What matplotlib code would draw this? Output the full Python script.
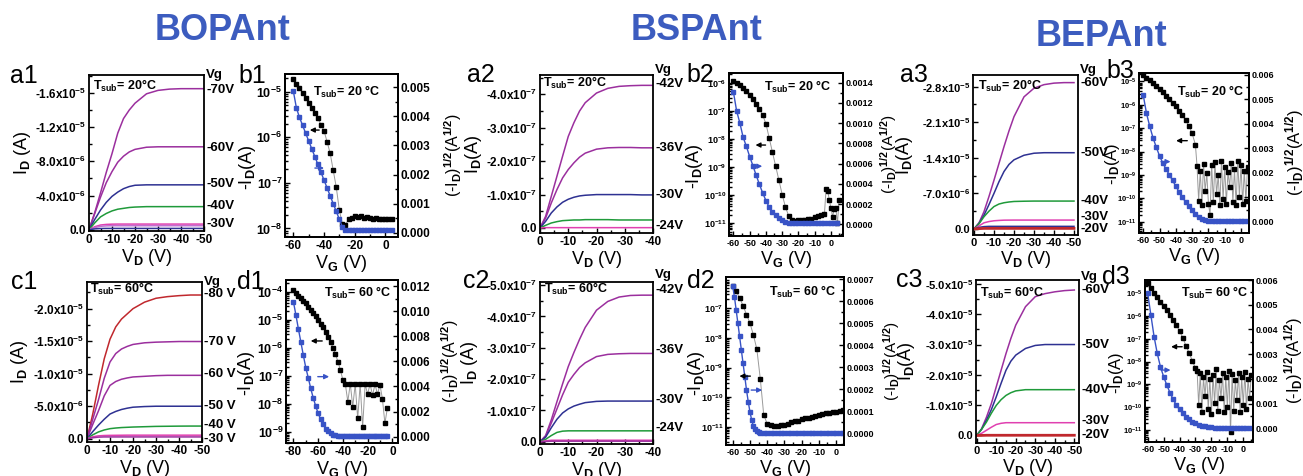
import numpy as np
import matplotlib
matplotlib.use("Agg")
import matplotlib.pyplot as plt
import matplotlib.transforms as mtrans
from matplotlib.ticker import MultipleLocator, LogLocator, NullFormatter

W, H = 1303, 476

plt.rcParams['font.family'] = ['Liberation Sans', 'DejaVu Sans']
plt.rcParams['font.weight'] = 'bold'
plt.rcParams['mathtext.fontset'] = 'custom'
for k in ('rm', 'it', 'bf', 'sf'):
    plt.rcParams['mathtext.' + k] = 'Liberation Sans:bold'
plt.rcParams['mathtext.default'] = 'rm'

PURPLE = '#9b2f9e'
DBLUE = '#2e3192'
GREEN = '#1f9a3a'
PINK = '#e040b0'
MAGENTA = '#c070d0'
RED = '#c0282d'
BLUE = '#3853c6'
TITLE_BLUE = '#3c5cbf'

# ---------------- output curves (I_D vs V_D) ----------------
VD50 = [0, -2.5, -5, -7.5, -10, -12.5, -15, -17.5, -20, -25, -30, -35, -40, -45, -50]
VD40 = [0, -2, -4, -6, -8, -10, -12, -14, -16, -20, -24, -28, -32, -36, -40]

# a1, units of 1e-6 A
A1_70 = [0, -2.0, -4.3, -6.7, -8.9, -11.3, -13.0, -14.0, -14.8, -15.9, -16.3, -16.45, -16.5, -16.5, -16.5]
A1_60 = [0, -1.9, -3.8, -5.5, -6.8, -7.9, -8.6, -9.1, -9.4, -9.65, -9.7, -9.7, -9.7, -9.7, -9.7]
A1_50 = [0, -1.2, -2.3, -3.2, -3.9, -4.4, -4.8, -5.05, -5.2, -5.25, -5.25, -5.25, -5.25, -5.25, -5.25]
A1_40 = [0, -0.8, -1.5, -1.9, -2.2, -2.4, -2.5, -2.6, -2.65, -2.7, -2.7, -2.7, -2.7, -2.7, -2.7]
A1_30 = [0, -0.35, -0.55, -0.62, -0.65, -0.66, -0.66, -0.66, -0.66, -0.66, -0.66, -0.66, -0.66, -0.66, -0.66]
A1_20 = [0, -0.25, -0.4, -0.45, -0.47, -0.47, -0.47, -0.47, -0.47, -0.47, -0.47, -0.47, -0.47, -0.47, -0.47]
A1_10 = [0, -0.1, -0.14, -0.15, -0.15, -0.15, -0.15, -0.15, -0.15, -0.15, -0.15, -0.15, -0.15, -0.15, -0.15]

# c1, units of 1e-6 A
C1_80 = [0, -3.8, -8.2, -12.3, -15.3, -17.2, -18.4, -19.2, -20.0, -21.0, -21.6, -21.85, -22.0, -22.1, -22.1]
C1_70 = [0, -3.0, -6.0, -9.3, -11.8, -13.1, -13.8, -14.2, -14.5, -14.75, -14.85, -14.9, -14.95, -14.95, -14.95]
C1_60 = [0, -2.2, -4.3, -6.6, -8.2, -8.8, -9.15, -9.35, -9.5, -9.6, -9.7, -9.75, -9.75, -9.75, -9.75]
C1_50 = [0, -1.1, -2.1, -3.0, -3.8, -4.2, -4.5, -4.7, -4.85, -4.95, -5.0, -5.0, -5.0, -5.0, -5.0]
C1_40 = [0, -0.6, -1.05, -1.35, -1.55, -1.65, -1.72, -1.76, -1.8, -1.85, -1.9, -1.92, -1.94, -1.95, -1.95]
C1_30 = [0, -0.3, -0.45, -0.5, -0.52, -0.53, -0.54, -0.55, -0.55, -0.55, -0.55, -0.55, -0.55, -0.55, -0.55]
C1_20 = [0, -0.15, -0.25, -0.28, -0.28, -0.28, -0.28, -0.28, -0.28, -0.28, -0.28, -0.28, -0.28, -0.28, -0.28]

# a2, units of 1e-7 A
A2_42 = [0, -0.35, -0.95, -1.55, -2.15, -2.74, -3.15, -3.5, -3.75, -4.04, -4.18, -4.24, -4.26, -4.27, -4.27]
A2_36 = [0, -0.3, -0.75, -1.15, -1.5, -1.75, -1.95, -2.12, -2.24, -2.36, -2.40, -2.41, -2.41, -2.40, -2.40]
A2_30 = [0, -0.2, -0.45, -0.63, -0.77, -0.86, -0.92, -0.96, -0.98, -1.0, -1.0, -1.0, -1.0, -0.99, -0.99]
A2_24 = [0, -0.08, -0.15, -0.19, -0.22, -0.23, -0.24, -0.24, -0.25, -0.25, -0.25, -0.24, -0.24, -0.24, -0.24]
A2_18 = [0, -0.01, -0.01, -0.01, -0.01, -0.01, -0.01, -0.01, -0.01, -0.01, -0.01, -0.01, -0.01, -0.01, -0.01]

# c2, units of 1e-7 A
C2_42 = [0, -0.2, -0.7, -1.28, -1.85, -2.4, -2.85, -3.27, -3.65, -4.2, -4.48, -4.62, -4.67, -4.68, -4.68]
C2_36 = [0, -0.18, -0.6, -1.05, -1.5, -1.9, -2.15, -2.37, -2.52, -2.72, -2.79, -2.81, -2.82, -2.82, -2.82]
C2_30 = [0, -0.15, -0.45, -0.72, -0.92, -1.05, -1.14, -1.2, -1.25, -1.29, -1.3, -1.3, -1.3, -1.3, -1.3]
C2_24 = [0, -0.08, -0.2, -0.3, -0.34, -0.35, -0.35, -0.35, -0.35, -0.35, -0.35, -0.35, -0.35, -0.35, -0.35]
C2_18 = [0, -0.03, -0.05, -0.05, -0.05, -0.05, -0.05, -0.05, -0.05, -0.05, -0.05, -0.05, -0.05, -0.05, -0.05]
C2_12 = [0, -0.01, -0.02, -0.02, -0.02, -0.02, -0.02, -0.02, -0.02, -0.02, -0.02, -0.02, -0.02, -0.02, -0.02]

# a3, units of 1e-6 A
A3_60 = [0, -1.2, -3.4, -6.4, -9.6, -12.9, -16.2, -19.3, -22.1, -26.0, -27.7, -28.4, -28.7, -28.8, -28.8]
A3_50 = [0, -1.1, -2.7, -4.8, -7.0, -9.3, -11.3, -12.7, -13.6, -14.5, -14.9, -15.0, -15.0, -15.0, -15.0]
A3_40 = [0, -1.0, -2.4, -3.5, -4.4, -4.9, -5.15, -5.3, -5.4, -5.45, -5.48, -5.48, -5.48, -5.48, -5.48]
A3_30 = [0, -0.6, -1.2, -1.45, -1.6, -1.67, -1.72, -1.73, -1.74, -1.74, -1.74, -1.74, -1.74, -1.74, -1.74]
A3_20B = [0, -0.3, -0.45, -0.5, -0.5, -0.5, -0.5, -0.5, -0.5, -0.5, -0.5, -0.5, -0.5, -0.5, -0.5]
A3_20R = [0, -0.05, -0.1, -0.1, -0.1, -0.1, -0.1, -0.1, -0.1, -0.1, -0.1, -0.1, -0.1, -0.1, -0.1]

# c3, units of 1e-5 A
C3_60 = [0, -0.22, -0.6, -1.05, -1.6, -2.15, -2.7, -3.2, -3.64, -4.25, -4.58, -4.68, -4.74, -4.78, -4.8]
C3_50 = [0, -0.2, -0.5, -0.85, -1.27, -1.72, -2.15, -2.45, -2.65, -2.87, -2.97, -3.0, -3.0, -3.0, -3.0]
C3_40 = [0, -0.2, -0.44, -0.73, -0.99, -1.18, -1.32, -1.41, -1.47, -1.51, -1.51, -1.51, -1.51, -1.51, -1.51]
C3_30 = [0, -0.07, -0.17, -0.27, -0.36, -0.4, -0.42, -0.42, -0.42, -0.42, -0.42, -0.42, -0.42, -0.42, -0.42]
C3_20B = [0, -0.01, -0.02, -0.02, -0.02, -0.02, -0.02, -0.02, -0.02, -0.02, -0.02, -0.02, -0.02, -0.02, -0.02]
C3_20R = [0, 0, -0.005, -0.005, -0.005, -0.005, -0.005, -0.005, -0.005, -0.005, -0.005, -0.005, -0.005, -0.005, -0.005]

# ---------------- transfer curves ----------------
B1_VG = list(range(-60, 5, 2))
B1_ID = [1.9e-5, 1.5e-5, 1.2e-5, 9.5e-6, 7.3e-6, 5.6e-6, 4.4e-6, 3.4e-6, 2.6e-6, 1.9e-6, 1.4e-6,
         8.0e-7, 4.5e-7, 1.9e-7, 8.0e-8, 2.5e-8, 1.25e-8, 1.2e-8, 1.6e-8, 1.7e-8, 1.9e-8, 1.8e-8,
         1.85e-8, 1.7e-8, 1.75e-8, 1.7e-8, 1.65e-8, 1.7e-8, 1.6e-8, 1.65e-8, 1.6e-8, 1.6e-8, 1.6e-8]
B1_SQ = [4.88e-3, 4.3e-3, 3.97e-3, 3.70e-3, 3.43e-3, 3.16e-3, 2.89e-3, 2.62e-3, 2.35e-3, 2.08e-3,
         1.81e-3, 1.54e-3, 1.27e-3, 1.0e-3, 0.73e-3, 0.46e-3, 0.19e-3, 0.1e-3, 0.09e-3, 0.09e-3,
         0.09e-3, 0.09e-3, 0.09e-3, 0.09e-3, 0.09e-3, 0.09e-3, 0.09e-3, 0.09e-3, 0.09e-3, 0.09e-3,
         0.09e-3, 0.09e-3, 0.09e-3]

D1_VG = list(range(-80, -3, 2))
D1_ID = [1.15e-4, 9.1e-5, 7.2e-5, 5.8e-5, 4.7e-5, 3.8e-5, 2.9e-5, 2.2e-5, 1.7e-5, 1.3e-5, 9.8e-6,
         7.1e-6, 5.4e-6, 3.6e-6, 2.5e-6, 1.6e-6, 1.0e-6, 5.9e-7, 3.2e-7, 1.6e-7, 7.1e-8,
         5.0e-8, 1.2e-8, 5.2e-8, 8e-9, 5.0e-8, 3e-9, 5.1e-8, 1.5e-9, 5.0e-8, 2.2e-8, 5.1e-8,
         2.0e-8, 5.0e-8, 2.2e-8, 4.8e-8, 1.5e-8, 2e-9, 7e-9]
D1_SQ = [10.75e-3, 9.7e-3, 8.6e-3, 7.55e-3, 6.5e-3, 5.5e-3, 4.7e-3, 3.85e-3, 3.1e-3, 2.45e-3,
         1.86e-3, 1.4e-3, 0.98e-3, 0.65e-3, 0.42e-3, 0.27e-3, 0.16e-3, 0.1e-3, 0.07e-3,
         0.05e-3, 0.05e-3, 0.05e-3, 0.05e-3, 0.05e-3, 0.05e-3, 0.05e-3, 0.05e-3, 0.05e-3, 0.05e-3,
         0.05e-3, 0.05e-3, 0.05e-3, 0.05e-3, 0.05e-3, 0.05e-3, 0.05e-3, 0.05e-3, 0.05e-3, 0.05e-3]

B2_VG_BLK = list(range(-60, -3, 2)) + [-3, -2, -1, 0, 1, 2, 3, 4, 5]
B2_ID = [1.17e-6, 1.0e-6, 8.5e-7, 6.8e-7, 5.2e-7, 3.8e-7, 2.75e-7, 1.8e-7, 1.2e-7, 7.1e-8, 3.5e-8,
         1.1e-8, 3.4e-9, 1.07e-9, 3.4e-10, 1.05e-10, 3.8e-11, 1.8e-11, 1.26e-11,
         1.15e-11, 1.3e-11, 1.35e-11, 1.25e-11, 1.4e-11, 1.45e-11, 1.6e-11, 1.8e-11, 2.0e-11, 2.2e-11,
         1.7e-10, 1.45e-10, 6.6e-11, 3.4e-11, 1.7e-11, 3.2e-11, 3.4e-11, 1.0e-11, 6.6e-11]
B2_VG_BLU = list(range(-60, 5, 2))
B2_SQ = [13.1e-4, 11.2e-4, 10.0e-4, 8.6e-4, 7.7e-4, 6.7e-4, 5.8e-4, 4.85e-4, 3.95e-4, 3.1e-4,
         2.35e-4, 1.7e-4, 1.25e-4, 0.88e-4, 0.6e-4, 0.4e-4, 0.26e-4, 0.17e-4, 0.12e-4, 0.1e-4,
         0.08e-4, 0.08e-4, 0.08e-4, 0.08e-4, 0.08e-4, 0.08e-4, 0.08e-4, 0.1e-4, 0.12e-4, 0.15e-4,
         0.12e-4, 0.08e-4, 0.08e-4]

D2_VG_BLK = list(range(-60, 5, 2))
D2_ID = [5.8e-7, 3.8e-7, 2.3e-7, 1.23e-7, 6.2e-8, 3.2e-8, 1.26e-8, 4.2e-9, 4.2e-10, 2.5e-11,
         1.26e-11, 1.1e-11, 1.05e-11, 1.07e-11, 1.12e-11, 1.17e-11, 1.26e-11, 1.4e-11, 1.5e-11,
         1.6e-11, 1.75e-11, 1.9e-11, 2.0e-11, 2.1e-11, 2.3e-11, 2.45e-11, 2.6e-11, 2.8e-11,
         2.95e-11, 3.2e-11, 3.25e-11, 3.5e-11, 3.6e-11]
D2_VG_BLU = list(range(-60, -43)) + list(range(-42, 5, 2))
D2_SQ = [6.67e-4, 6.2e-4, 5.6e-4, 5.0e-4, 4.4e-4, 3.79e-4, 3.18e-4, 2.58e-4, 1.97e-4, 1.44e-4,
         0.98e-4, 0.6e-4, 0.33e-4, 0.18e-4, 0.09e-4, 0.05e-4, 0.03e-4,
         0.02e-4, 0.02e-4, 0.02e-4, 0.02e-4, 0.02e-4, 0.02e-4, 0.02e-4, 0.02e-4, 0.02e-4, 0.02e-4,
         0.02e-4, 0.02e-4, 0.02e-4, 0.02e-4, 0.02e-4, 0.02e-4, 0.02e-4, 0.02e-4, 0.02e-4, 0.02e-4,
         0.02e-4, 0.02e-4, 0.02e-4, 0.02e-4]

B3_VG_BLK = list(range(-60, -27, 2)) + list(range(-27, 6))
B3_ID = [1.9e-5, 1.45e-5, 1.1e-5, 8.3e-6, 6.2e-6, 4.6e-6, 3.4e-6, 2.5e-6, 1.8e-6, 1.25e-6, 8.5e-7,
         5.6e-7, 3.6e-7, 2.2e-7, 1.25e-7, 6.0e-8, 2.0e-8,
         2.5e-9, 8e-11, 1.5e-9, 5e-11, 3e-9, 2e-10, 1.2e-9, 6e-11, 2.0e-11, 2.8e-9, 7e-11,
         3.5e-9, 1.5e-10, 1.0e-9, 5e-11, 3.8e-9, 9e-11, 2.2e-9, 6e-11, 1.4e-9, 3e-10, 3.2e-9,
         7e-11, 1.8e-9, 5e-11, 4e-9, 1.2e-10, 2.6e-9, 6e-11, 1.5e-9, 8e-11, 2.2e-9, 1.5e-9]
B3_VG_BLU = list(range(-60, 5, 2))
B3_SQ = [5.18e-3, 4.43e-3, 3.9e-3, 3.43e-3, 3.05e-3, 2.69e-3, 2.4e-3, 2.15e-3, 1.92e-3, 1.69e-3,
         1.45e-3, 1.22e-3, 1.0e-3, 0.81e-3, 0.63e-3, 0.46e-3, 0.32e-3, 0.21e-3, 0.13e-3, 0.08e-3,
         0.05e-3, 0.03e-3, 0.02e-3, 0.02e-3, 0.02e-3, 0.02e-3, 0.02e-3, 0.02e-3, 0.02e-3, 0.02e-3,
         0.02e-3, 0.02e-3, 0.02e-3]

D3_VG_BLK = list(range(-60, -29, 2)) + list(range(-29, 6))
D3_ID = [2.8e-5, 1.7e-5, 1.05e-5, 6.6e-6, 4.3e-6, 2.8e-6, 1.8e-6, 1.12e-6, 6.8e-7, 4.0e-7, 2.2e-7,
         1.1e-7, 5.0e-8, 2.4e-8, 1.1e-8, 5.0e-9,
         4e-9, 1.2e-10, 3e-9, 6e-11, 2e-9, 3e-10, 3.5e-9, 8e-11, 1.8e-9, 5e-11, 2.5e-9, 1.5e-10,
         4.5e-9, 7e-11, 1.6e-9, 2.5e-10, 3e-9, 6e-11, 2.2e-9, 1e-10, 4e-9, 8e-12, 2.8e-9, 7e-11,
         1.5e-9, 2e-10, 3.2e-9, 6e-11, 2e-9, 1.2e-10, 3.5e-9, 8e-11, 1.8e-9, 2.5e-10, 2.6e-9]
D3_VG_BLU = list(range(-60, 5, 2))
D3_SQ = [5.46e-3, 4.58e-3, 3.71e-3, 3.03e-3, 2.49e-3, 2.09e-3, 1.75e-3, 1.44e-3, 1.17e-3, 0.94e-3,
         0.77e-3, 0.61e-3, 0.47e-3, 0.36e-3, 0.27e-3, 0.2e-3, 0.15e-3, 0.11e-3, 0.08e-3, 0.05e-3,
         0.04e-3, 0.03e-3, 0.03e-3, 0.03e-3, 0.03e-3, 0.03e-3, 0.03e-3, 0.03e-3, 0.03e-3, 0.03e-3,
         0.03e-3, 0.03e-3, 0.03e-3]

# tick labels
XT50 = [0, -10, -20, -30, -40, -50]
XT40 = [0, -10, -20, -30, -40]
A1_YT = [0, -4, -8, -12, -16]
A1_YL = ['0.0', '-4.0x10$^{-6}$', '-8.0x10$^{-6}$', '-1.2x10$^{-5}$', '-1.6x10$^{-5}$']
C1_YT = [0, -5, -10, -15, -20]
C1_YL = ['0.0', '-5.0x10$^{-6}$', '-1.0x10$^{-5}$', '-1.5x10$^{-5}$', '-2.0x10$^{-5}$']
A2_YT = [0, -1, -2, -3, -4]
A2_YL = ['0.0', '-1.0x10$^{-7}$', '-2.0x10$^{-7}$', '-3.0x10$^{-7}$', '-4.0x10$^{-7}$']
C2_YT = [0, -1, -2, -3, -4, -5]
C2_YL = ['0.0', '-1.0x10$^{-7}$', '-2.0x10$^{-7}$', '-3.0x10$^{-7}$', '-4.0x10$^{-7}$', '-5.0x10$^{-7}$']
A3_YT = [0, -7, -14, -21, -28]
A3_YL = ['0.0', '-7.0x10$^{-6}$', '-1.4x10$^{-5}$', '-2.1x10$^{-5}$', '-2.8x10$^{-5}$']
C3_YT = [0, -1, -2, -3, -4, -5]
C3_YL = ['0.0', '-1.0x10$^{-5}$', '-2.0x10$^{-5}$', '-3.0x10$^{-5}$', '-4.0x10$^{-5}$', '-5.0x10$^{-5}$']

fig = plt.figure(figsize=(W / 100, H / 100), dpi=100)


def px_rect(x0, y0, x1, y1):
    return [x0 / W, 1 - y1 / H, (x1 - x0) / W, (y1 - y0) / H]


def style(ax, size):
    ax.tick_params(which='both', direction='in', labelsize=size, width=1.0, pad=2)
    ax.tick_params(which='major', length=3.5)
    ax.tick_params(which='minor', length=2)
    for s in ax.spines.values():
        s.set_linewidth(1.3)


def output_panel(rect, vd, curves, colors, xlim, xticks, ylim, yticks, ylabels, yminor,
                 vg_labels, vg_ys, ylab, ylab_x, tsub, tsub_xy, vg_xy=(1.02, 1.03), lsize=8.5):
    ax = fig.add_axes(px_rect(*rect))
    for ys, c in zip(curves, colors):
        lw = 2.0 if c == RED and max(abs(v) for v in ys) < 0.2 else 1.1
        ax.plot(vd, ys, color=c, lw=lw)
    ax.set_xlim(*xlim)
    ax.set_ylim(*ylim)
    ax.set_xticks(xticks)
    ax.set_xticklabels([str(t) for t in xticks])
    ax.xaxis.set_minor_locator(MultipleLocator(5))
    ax.set_yticks(yticks)
    ax.set_yticklabels(ylabels)
    ax.yaxis.set_minor_locator(MultipleLocator(yminor))
    style(ax, lsize)
    ax.set_ylabel(ylab, fontsize=13, va='center')
    ax.yaxis.set_label_coords(ylab_x, 0.5)
    ax.set_xlabel('V$_D$ (V)', fontsize=13, labelpad=1)
    tr = mtrans.blended_transform_factory(ax.transAxes, ax.transData)
    for txt, y in zip(vg_labels, vg_ys):
        ax.text(1.02, y, txt, transform=tr, ha='left', va='center', fontsize=9.5)
    ax.text(vg_xy[0], vg_xy[1], 'Vg', transform=ax.transAxes, ha='left', va='center', fontsize=9.5)
    ax.text(tsub_xy[0], tsub_xy[1], 'T$_{sub}$= ' + tsub, transform=ax.transAxes,
            ha='left', va='center', fontsize=9)
    return ax


def transfer_panel(rect, vg_blk, id_blk, vg_blu, sq_blu, xlim, xticks, xminor, ylim, decades,
                   rlim, rticks, rfmt, rminor, ylab_x, rlab_x, tsub, tsub_xy, blk_arrow, blu_arrow,
                   lsize, logsize, ylab_size=13, rlab_size=12):
    ax = fig.add_axes(px_rect(*rect))
    ax.set_yscale('log')
    ax.plot(vg_blk, id_blk, color='#9a9a9a', lw=0.7, zorder=2)
    ax.plot(vg_blk, id_blk, ls='none', marker='s', ms=2.8, mfc='black', mec='black', zorder=3)
    ax.set_xlim(*xlim)
    ax.set_ylim(*ylim)
    ax.set_xticks(xticks)
    ax.set_xticklabels([str(t) for t in xticks])
    ax.xaxis.set_minor_locator(MultipleLocator(xminor))
    ax.set_yticks([10.0 ** d for d in decades])
    ax.set_yticklabels([r'10$^{%d}$' % d for d in decades])
    ax.yaxis.set_minor_locator(LogLocator(base=10, subs=np.arange(2, 10), numticks=40))
    ax.yaxis.set_minor_formatter(NullFormatter())
    style(ax, lsize)
    ax.tick_params(axis='y', labelsize=logsize)
    ax.set_ylabel('-I$_D$(A)', fontsize=ylab_size, va='center')
    ax.yaxis.set_label_coords(ylab_x, 0.43)
    ax.set_xlabel('V$_G$ (V)', fontsize=13, labelpad=1)

    ax2 = ax.twinx()
    ax2.plot(vg_blu, sq_blu, color=BLUE, lw=1.0, marker='s', ms=2.8, mfc=BLUE, mec=BLUE)
    ax2.set_ylim(*rlim)
    ax2.set_yticks(rticks)
    ax2.set_yticklabels([rfmt % t for t in rticks])
    ax2.yaxis.set_minor_locator(MultipleLocator(rminor))
    style(ax2, lsize)
    ax2.set_ylabel(r'(-I$_D$)$^{1/2}$(A$^{1/2}$)', fontsize=rlab_size, va='center')
    ax2.yaxis.set_label_coords(rlab_x, 0.5)
    ax2.text(tsub_xy[0], tsub_xy[1], 'T$_{sub}$= ' + tsub, transform=ax.transAxes,
             ha='center', va='center', fontsize=9)
    hx, tx, y = blk_arrow
    ax2.annotate('', xy=(hx, y), xytext=(tx, y), xycoords='axes fraction',
                 arrowprops=dict(arrowstyle='-|>', color='black', lw=1.0, mutation_scale=7))
    tx, hx, y = blu_arrow
    ax2.annotate('', xy=(hx, y), xytext=(tx, y), xycoords='axes fraction',
                 arrowprops=dict(arrowstyle='-|>', color=BLUE, lw=1.0, mutation_scale=7))
    return ax, ax2


# ---------------- BOPAnt ----------------
output_panel((89, 75, 204, 231), VD50, [A1_70, A1_60, A1_50, A1_40, A1_30, A1_20, A1_10],
             [PURPLE, PURPLE, DBLUE, GREEN, PINK, MAGENTA, DBLUE], (0, -50), XT50,
             (0.15, -18.1), A1_YT, A1_YL, 2,
             ['-70V', '-60V', '-50V', '-40V', '-30V'], [-16.3, -9.6, -5.3, -2.8, -0.66],
             'I$_D$ (A)', -0.58, '20°C', (0.035, 0.93), vg_xy=(1.02, 1.0))
transfer_panel((285, 74, 398, 237), B1_VG, B1_ID, B1_VG, B1_SQ, (-65.4, 8.2), [-60, -40, -20, 0], 10,
               (6.5e-9, 2.45e-5), [-8, -7, -6, -5], (-0.00015, 0.00546),
               [0, 0.001, 0.002, 0.003, 0.004, 0.005], '%.3f', 0.0005, -0.33, 1.49,
               '20 °C', (0.546, 0.89), (0.195, 0.327, 0.656), (0.24, 0.37, 0.423), 8.5, 9,
               rlab_size=11.5)
output_panel((87, 282, 202, 442), VD50, [C1_80, C1_70, C1_60, C1_50, C1_40, C1_30, C1_20],
             [RED, PURPLE, PURPLE, DBLUE, GREEN, PINK, PURPLE], (0, -50), XT50,
             (0.5, -24.1), C1_YT, C1_YL, 2.5,
             ['-80 V', '-70 V', '-60 V', '-50 V', '-40 V', '-30 V'], [-22.2, -14.9, -9.9, -5.0, -2.1, 0.0],
             'I$_D$ (A)', -0.59, '60°C', (0.026, 0.955), vg_xy=(1.02, 1.0))
transfer_panel((286, 280, 398, 443), D1_VG, D1_ID, D1_VG, D1_SQ, (-86, 4.6), [-80, -60, -40, -20, 0], 10,
               (4.0e-10, 2.6e-4), [-9, -8, -7, -6, -5, -4], (-0.0005, 0.01248),
               [0, 0.002, 0.004, 0.006, 0.008, 0.010, 0.012], '%.3f', 0.001, -0.35, 1.47,
               '60 °C', (0.64, 0.92), (0.196, 0.348, 0.626), (0.259, 0.41, 0.407), 8.5, 9,
               rlab_size=11.5)

# ---------------- BSPAnt ----------------
output_panel((540, 75, 653, 233), VD40, [A2_42, A2_36, A2_30, A2_24, A2_18],
             [PURPLE, PURPLE, DBLUE, GREEN, PINK], (0, -40), XT40,
             (0.15, -4.58), A2_YT, A2_YL, 0.5,
             ['-42V', '-36V', '-30V', '-24V'], [-4.3, -2.4, -0.99, -0.07],
             'I$_D$(A)', -0.59, '20°C', (0.027, 0.95))
transfer_panel((729, 73, 843, 236), B2_VG_BLK, B2_ID, B2_VG_BLU, B2_SQ, (-62.7, 7.4),
               [-60, -50, -40, -30, -20, -10, 0], 5,
               (3.5e-12, 2.24e-6), [-11, -10, -9, -8, -7, -6], (-0.000116, 0.001496),
               [0, 0.0002, 0.0004, 0.0006, 0.0008, 0.0010, 0.0012, 0.0014], '%.4f', 0.0001, -0.3, 1.40,
               '20 °C', (0.6, 0.916), (0.208, 0.345, 0.558), (0.213, 0.316, 0.428), 6.5, 6.5,
               rlab_size=11)
output_panel((540, 282, 653, 444), VD40, [C2_42, C2_36, C2_30, C2_24, C2_18, C2_12],
             [PURPLE, PURPLE, DBLUE, GREEN, PINK, PURPLE], (0, -40), XT40,
             (0.07, -5.1), C2_YT, C2_YL, 0.5,
             ['-42V', '-36V', '-30V', '-24V'], [-4.85, -2.93, -1.35, -0.43],
             'I$_D$ (A)', -0.62, '60°C', (0.035, 0.96), vg_xy=(1.02, 1.045))
transfer_panel((726, 277, 844, 445), D2_VG_BLK, D2_ID, D2_VG_BLU, D2_SQ, (-63.9, 4.6),
               [-60, -50, -40, -30, -20, -10, 0], 5,
               (2.4e-12, 1.15e-6), [-11, -10, -9, -8, -7], (-0.000053, 0.00071),
               [0, 0.0001, 0.0002, 0.0003, 0.0004, 0.0005, 0.0006, 0.0007], '%.4f', 0.00005, -0.25, 1.40,
               '60 °C', (0.65, 0.91), (0.09, 0.23, 0.41), (0.19, 0.33, 0.327), 6.5, 6.5,
               rlab_size=11)

# ---------------- BEPAnt ----------------
output_panel((973, 75, 1078, 235), VD50, [A3_60, A3_50, A3_40, A3_30, A3_20B, A3_20R],
             [PURPLE, DBLUE, GREEN, PINK, DBLUE, RED], (0.5, -52), XT50,
             (1.2, -30.3), A3_YT, A3_YL, 3.5,
             ['-60V', '-50V', '-40V', '-30V', '-20V'], [-28.8, -15.0, -5.48, -2.4, 0.0],
             'I$_D$(A)', -0.65, '20°C', (0.05, 0.93), lsize=8)
transfer_panel((1139, 73, 1249, 233), B3_VG_BLK, B3_ID, B3_VG_BLU, B3_SQ, (-62.6, 4.9),
               [-60, -50, -40, -30, -20, -10, 0], 5,
               (3.3e-12, 2.3e-5), [-11, -10, -9, -8, -7, -6, -5], (-0.00046, 0.00608),
               [0, 0.001, 0.002, 0.003, 0.004, 0.005, 0.006], '%.3f', 0.0005, -0.245, 1.41,
               '20 °C', (0.655, 0.88), (0.312, 0.464, 0.577), (0.175, 0.312, 0.446), 6.5, 5.5,
               ylab_size=12)
output_panel((976, 280, 1079, 443), VD50, [C3_60, C3_50, C3_40, C3_30, C3_20B, C3_20R],
             [PURPLE, DBLUE, GREEN, PINK, DBLUE, RED], (0.35, -52.4), XT50,
             (0.25, -5.13), C3_YT, C3_YL, 0.5,
             ['-60V', '-50V', '-40V', '-30V', '-20V'], [-4.8, -3.0, -1.51, -0.47, 0.0],
             'I$_D$(A)', -0.67, '60°C', (0.04, 0.92), lsize=8, vg_xy=(1.02, 1.02))
transfer_panel((1145, 280, 1253, 442), D3_VG_BLK, D3_ID, D3_VG_BLU, D3_SQ, (-61.7, 6.1),
               [-60, -50, -40, -30, -20, -10, 0], 5,
               (2.95e-12, 3.8e-5), [-11, -10, -9, -8, -7, -6, -5], (-0.00055, 0.006),
               [0, 0.001, 0.002, 0.003, 0.004, 0.005, 0.006], '%.3f', 0.0005, -0.26, 1.38,
               '60 °C', (0.65, 0.918), (0.216, 0.37, 0.588), (0.123, 0.262, 0.444), 6.5, 5.5,
               ylab_size=12)

# panel letters and titles
for txt, x, y in [('a1', 10, 76), ('b1', 238, 76), ('c1', 11, 282), ('d1', 237, 282),
                  ('a2', 467, 75), ('b2', 686, 75), ('c2', 463, 281), ('d2', 687, 281),
                  ('a3', 900, 75), ('b3', 1106, 71), ('c3', 896, 280), ('d3', 1102, 277)]:
    fig.text(x / W, 1 - y / H, txt, fontsize=18, weight='normal', ha='left', va='center')

for txt, x, y in [('BOPAnt', 223, 31), ('BSPAnt', 697, 31), ('BEPAnt', 1102, 36)]:
    fig.text(x / W, 1 - y / H, txt, fontsize=26, weight='bold', color=TITLE_BLUE,
             ha='center', va='center')

fig.savefig('out.png', dpi=100)
